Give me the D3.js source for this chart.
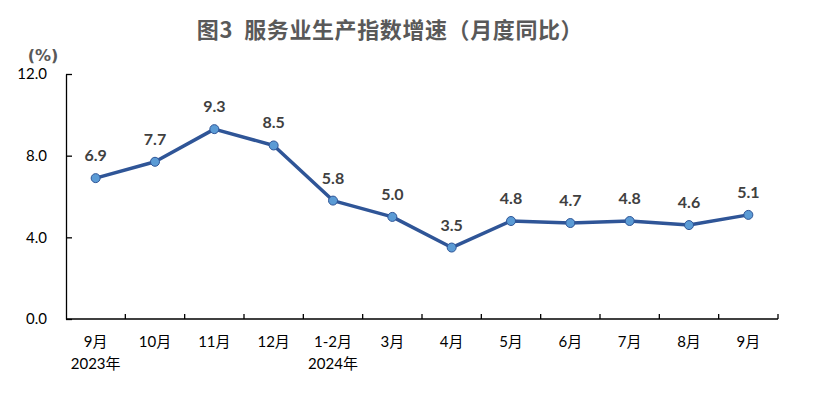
<!DOCTYPE html>
<html>
<head>
<meta charset="utf-8">
<script src="https://cdn.jsdelivr.net/npm/d3@7"></script>
<style>
  body { margin: 0; background: #fff; }
  text { font-family: "Lato", "Noto Sans CJK SC", sans-serif; }
</style>
</head>
<body>
<svg id="grafico"></svg>
<script>
// dados do gráfico
const meses = ['9月', '10月', '11月', '12月', '1-2月', '3月', '4月', '5月', '6月', '7月', '8月', '9月'];
const anos = ['2023年', '', '', '', '2024年', '', '', '', '', '', '', ''];
const valores = [6.9, 7.7, 9.3, 8.5, 5.8, 5.0, 3.5, 4.8, 4.7, 4.8, 4.6, 5.1];
const ticksY = [0, 4, 8, 12];

const largura = 815, altura = 394;
const margem = { esq: 66, dir: 37, topo: 74, base: 75 };

let svg = d3.select('#grafico').attr('width', largura).attr('height', altura);

// título
svg.append('text')
  .attr('x', 390).attr('y', 38)
  .attr('text-anchor', 'middle')
  .style('font-family', '"Noto Sans CJK SC", sans-serif')
  .style('font-size', '22px').style('font-weight', 'bold')
  .style('letter-spacing', '0.6px')
  .style('fill', '#595959')
  .style('white-space', 'pre')
  .text('图3  服务业生产指数增速（月度同比）');

// escalas
let fnX = d3.scaleBand()
  .domain(d3.range(meses.length))
  .range([margem.esq, largura - margem.dir]);

let fnY = d3.scaleLinear()
  .domain([0, 12])
  .range([altura - margem.base, margem.topo]);

// eixo y
let eixoY = svg.append('g')
  .attr('transform', `translate(${margem.esq},0)`)
  .call(d3.axisLeft(fnY).tickValues(ticksY).tickSizeInner(-6).tickSizeOuter(0)
    .tickFormat(d3.format('.1f')).tickPadding(19));
eixoY.select('.domain').attr('stroke', '#000').attr('stroke-width', 1.3);
eixoY.selectAll('.tick line').attr('stroke', '#000').attr('stroke-width', 1.3);
eixoY.selectAll('.tick text').style('font-size', '15px').style('fill', '#000')
  .style('font-family', '"Lato", sans-serif');

svg.append('text')
  .attr('x', 43).attr('y', 61)
  .attr('text-anchor', 'middle')
  .style('font-family', '"DejaVu Sans", sans-serif')
  .style('font-size', '16px').style('font-weight', 'bold').style('fill', '#595959')
  .text('(%)');

// eixo x, marcas entre as categorias
let base = fnY(0);
svg.append('line')
  .attr('x1', margem.esq).attr('x2', largura - margem.dir)
  .attr('y1', base).attr('y2', base)
  .attr('stroke', '#000').attr('stroke-width', 1.3);
svg.selectAll('.marcaX')
  .data(d3.range(1, meses.length + 1))
  .enter()
  .append('line')
  .classed('marcaX', true)
  .attr('x1', i => fnX.step() * i + margem.esq)
  .attr('x2', i => fnX.step() * i + margem.esq)
  .attr('y1', base).attr('y2', base - 5)
  .attr('stroke', '#000').attr('stroke-width', 1.3);

svg.selectAll('.mes')
  .data(meses)
  .enter()
  .append('text')
  .classed('mes', true)
  .attr('x', (d, i) => fnX(i) + fnX.bandwidth() / 2)
  .attr('y', 347)
  .attr('text-anchor', 'middle')
  .style('font-size', '15px').style('fill', '#000')
  .text(d => d);

svg.selectAll('.ano')
  .data(anos)
  .enter()
  .append('text')
  .classed('ano', true)
  .attr('x', (d, i) => fnX(i) + fnX.bandwidth() / 2)
  .attr('y', 369)
  .attr('text-anchor', 'middle')
  .style('font-size', '15px').style('fill', '#000')
  .text(d => d);

// linha
let linha = d3.line()
  .x((d, i) => fnX(i) + fnX.bandwidth() / 2)
  .y(d => fnY(d));

svg.append('path')
  .datum(valores)
  .attr('d', linha)
  .attr('fill', 'none')
  .attr('stroke', '#2F5597')
  .attr('stroke-width', 3.5)
  .attr('stroke-linejoin', 'round');

svg.selectAll('.ponto')
  .data(valores)
  .enter()
  .append('circle')
  .classed('ponto', true)
  .attr('cx', (d, i) => fnX(i) + fnX.bandwidth() / 2)
  .attr('cy', d => fnY(d))
  .attr('r', 4.5)
  .attr('fill', '#5B9BD5')
  .attr('stroke', '#2F5597')
  .attr('stroke-width', 1);

// rótulos
svg.selectAll('.rotulo')
  .data(valores)
  .enter()
  .append('text')
  .classed('rotulo', true)
  .attr('x', (d, i) => fnX(i) + fnX.bandwidth() / 2)
  .attr('y', d => fnY(d) - 17)
  .attr('text-anchor', 'middle')
  .style('font-size', '16px').style('font-weight', 'bold').style('fill', '#404040')
  .text(d => d3.format('.1f')(d));
</script>
</body>
</html>
